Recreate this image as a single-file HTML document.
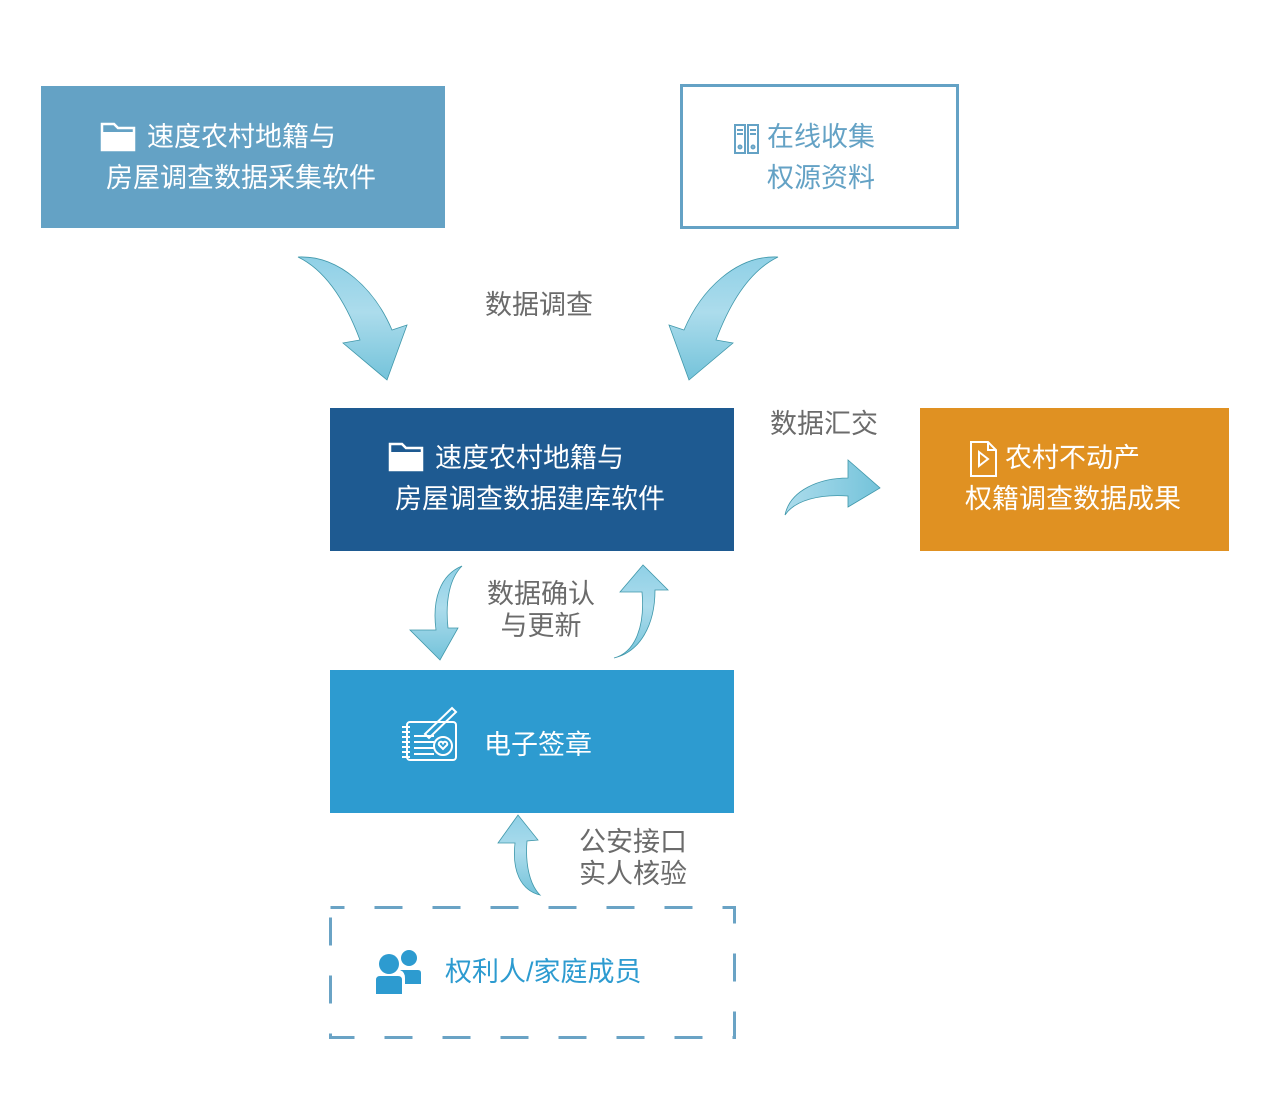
<!DOCTYPE html>
<html><head><meta charset="utf-8"><style>
body{margin:0;width:1269px;height:1093px;background:#fff;position:relative;overflow:hidden;font-family:"Liberation Sans","Noto Sans CJK SC",sans-serif}
.t{position:absolute;white-space:nowrap;font-size:27px;line-height:40px}
.l{position:absolute;color:#6b6b6b;font-size:27px;line-height:32px;text-align:center;white-space:nowrap}
svg{position:absolute;left:0;top:0}
</style></head><body>
<svg width="1269" height="1093">
<defs>
<linearGradient id="g" x1="0" y1="0" x2="0" y2="1"><stop offset="0" stop-color="#8fd0e6"/><stop offset="0.45" stop-color="#acdcec"/><stop offset="1" stop-color="#74c3da"/></linearGradient>
<linearGradient id="gh" x1="0" y1="0" x2="1" y2="0"><stop offset="0" stop-color="#acdcec"/><stop offset="1" stop-color="#74c3da"/></linearGradient>
</defs>
<g fill="url(#g)" stroke="#3f97aa" stroke-width="0.8">
<path d="M298,257 C340,255 375,290 392,330 L407,325 L387,380 L343,343 L360,340 C345,300 325,270 298,257 Z"/>
<path transform="translate(1080,0) scale(-1,1)" d="M302,257 C344,255 379,290 396,330 L411,325 L391,380 L347,343 L364,340 C349,300 329,270 302,257 Z"/>
<path d="M462,566 C440,575 432,600 436,630 L410,630 L440,660 L458,628 L448,628 C445,600 450,578 462,566 Z"/>
<path d="M614,658 C636,652 645,625 642,592 L620,592 L643,565 L668,590 L655,590 C655,625 640,652 614,658 Z"/>
<path d="M540,895 C520,890 512,870 515,843 L498,843 L518,815 L538,840 L527,841 C525,865 530,885 540,895 Z"/>
</g>
<path fill="url(#gh)" stroke="#3f97aa" stroke-width="0.8" d="M785,515 C790,490 820,478 848,478 L848,460 L880,488 L848,507 L848,496 C820,494 795,500 785,515 Z"/>
<rect x="41" y="86" width="404" height="142" fill="#64a2c5"/>
<rect x="681.5" y="85.5" width="276" height="142" fill="#fff" stroke="#64a2c5" stroke-width="3"/>
<rect x="330" y="408" width="404" height="143" fill="#1e5a91"/>
<rect x="920" y="408" width="309" height="143" fill="#e09122"/>
<rect x="330" y="670" width="404" height="143" fill="#2d9bd0"/>
<rect x="330.5" y="907.5" width="404" height="130" fill="none" stroke="#6aa3c5" stroke-width="3" stroke-dasharray="28,30" stroke-dashoffset="14"/>
<path d="M102,124 h12 l4,4 h16 v22 h-32 z" fill="none" stroke="#fff" stroke-width="2.5"/>
<path d="M102,132 h32 v18 h-32z" fill="#fff"/>
<path d="M390,444 h12 l4,4 h16 v22 h-32 z" fill="none" stroke="#fff" stroke-width="2.5"/>
<path d="M390,452 h32 v18 h-32z" fill="#fff"/>
<g fill="none" stroke="#64a2c5" stroke-width="2"><rect x="735" y="125" width="10" height="28"/><rect x="748" y="125" width="10" height="28"/><circle cx="740" cy="147" r="1.5"/><circle cx="753" cy="147" r="1.5"/><path d="M737,130h6M737,134h6M750,130h6M750,134h6"/></g>
<g fill="none" stroke="#fff" stroke-width="2"><path d="M971,442 h17 l8,8 v26 h-25z"/><path d="M988,442v8h8"/><path d="M979,452 l9,7 l-9,7z"/></g>
<g fill="none" stroke="#fff" stroke-width="2"><rect x="407" y="722" width="49" height="38" rx="3"/><circle cx="443" cy="746" r="9"/><path d="M414,736h20M414,742h20M414,748h20M414,754h20"/><path d="M425,734 l27,-26 l4,4 l-27,26z"/><path d="M402,727h8M402,732h8M402,737h8M402,742h8M402,747h8M402,752h8M402,757h8"/><path d="M439,745 l4,4 l4,-4 a2,2 0 0 0 -4,-2 a2,2 0 0 0 -4,2z"/></g>
<g fill="#2d9bd0"><circle cx="389" cy="964" r="10"/><path d="M376,980 q0,-4 4,-4 h18 q4,0 4,4 v14 h-26z"/><circle cx="409" cy="958" r="8"/><path d="M400,970 h18 q3,0 3,3 v11 h-16 v-6 q0,-6 -5,-8z"/></g>
</svg>
<div class="t" style="left:147px;top:117px;color:#fff">速度农村地籍与</div>
<div class="t" style="left:106px;top:158px;color:#fff">房屋调查数据采集软件</div>
<div class="t" style="left:767px;top:117px;color:#64a2c5">在线收集</div>
<div class="t" style="left:767px;top:158px;color:#64a2c5">权源资料</div>
<div class="t" style="left:435px;top:438px;color:#fff">速度农村地籍与</div>
<div class="t" style="left:395px;top:479px;color:#fff">房屋调查数据建库软件</div>
<div class="t" style="left:1005px;top:438px;color:#fff">农村不动产</div>
<div class="t" style="left:965px;top:479px;color:#fff">权籍调查数据成果</div>
<div class="t" style="left:484px;top:725px;color:#fff">电子签章</div>
<div class="t" style="left:445px;top:952px;color:#2d9bd0">权利人/家庭成员</div>
<div class="l" style="left:485px;top:289px">数据调查</div>
<div class="l" style="left:770px;top:408px">数据汇交</div>
<div class="l" style="left:487px;top:578px">数据确认<br>与更新</div>
<div class="l" style="left:579px;top:826px;text-align:left">公安接口<br>实人核验</div>
</body></html>
